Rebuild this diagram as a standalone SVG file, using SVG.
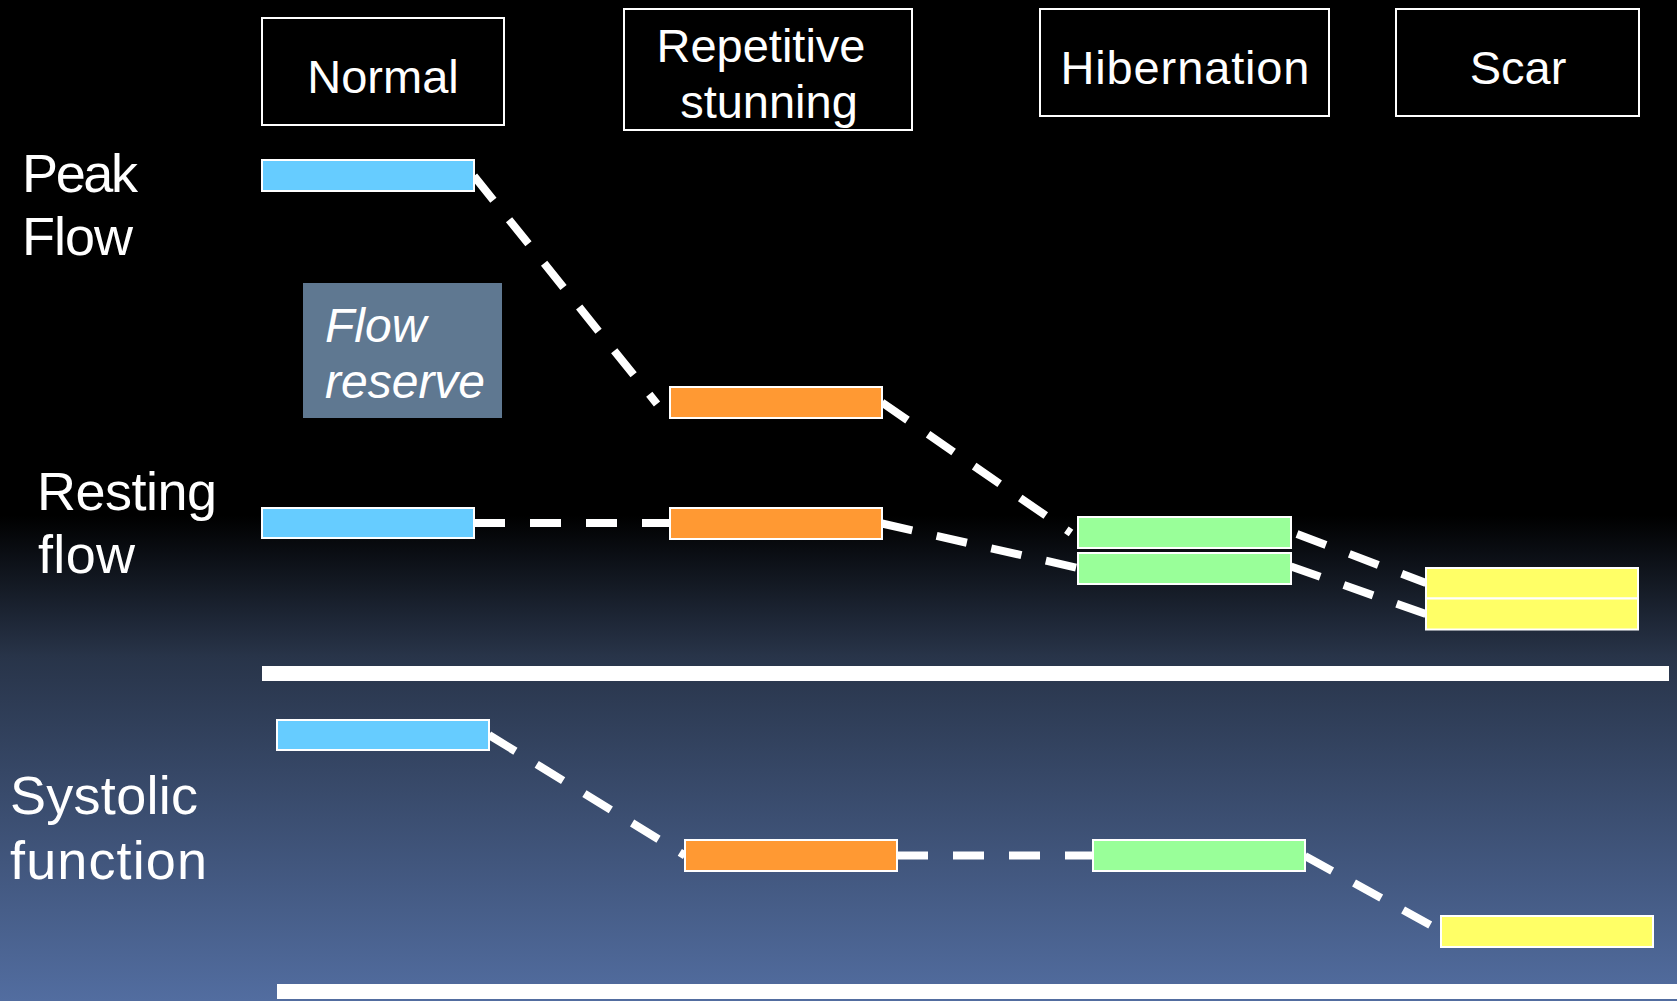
<svg xmlns="http://www.w3.org/2000/svg" width="1677" height="1001" viewBox="0 0 1677 1001">
  <defs>
    <linearGradient id="bg" gradientUnits="userSpaceOnUse" x1="0" y1="0" x2="0" y2="1001">
      <stop offset="0" stop-color="#000000"/>
      <stop offset="0.515" stop-color="#000000"/>
      <stop offset="0.656" stop-color="#283449"/>
      <stop offset="1" stop-color="#526DA0"/>
    </linearGradient>
  </defs>
  <style>
    .hdr { fill: none; stroke: #FFFFFF; stroke-width: 2; }
    .hdrtxt { font-family: "Liberation Sans", Arial, sans-serif; font-size: 47px; fill: #FFFFFF; text-anchor: middle; }
    .side { font-family: "Liberation Sans", Arial, sans-serif; font-size: 54px; fill: #FFFFFF; }
    .bar { stroke: #FFFFFF; stroke-width: 2; }
    .blue { fill: #66CCFF; }
    .orange { fill: #FF9933; }
    .green { fill: #99FF99; }
    .yellow { fill: #FFFF66; }
    .conn { stroke: #FFFFFF; stroke-width: 8; stroke-dasharray: 31 25; fill: none; stroke-linecap: butt; }
    .rule { fill: #FFFFFF; }
    .fr { fill: #5F7891; }
    .frtxt { font-family: "Liberation Sans", Arial, sans-serif; font-size: 48px; font-style: italic; fill: #FFFFFF; }
  </style>

  <rect x="0" y="0" width="1677" height="1001" fill="url(#bg)"/>

  <!-- Column headers -->
  <g id="hdr-normal">
    <rect class="hdr" x="262" y="18" width="242" height="107"/>
    <text class="hdrtxt" x="383" y="93">Normal</text>
  </g>
  <g id="hdr-stunning">
    <rect class="hdr" x="624" y="9" width="288" height="121"/>
    <text class="hdrtxt" x="761" y="62">Repetitive</text>
    <text class="hdrtxt" x="769" y="118">stunning</text>
  </g>
  <g id="hdr-hibernation">
    <rect class="hdr" x="1040" y="9" width="289" height="107"/>
    <text class="hdrtxt" x="1185" y="84" textLength="249" lengthAdjust="spacing">Hibernation</text>
  </g>
  <g id="hdr-scar">
    <rect class="hdr" x="1396" y="9" width="243" height="107"/>
    <text class="hdrtxt" x="1518" y="84">Scar</text>
  </g>

  <!-- Row labels -->
  <g id="label-peak">
    <text class="side" x="22" y="192" textLength="116" lengthAdjust="spacing">Peak</text>
    <text class="side" x="22" y="255" textLength="111" lengthAdjust="spacing">Flow</text>
  </g>
  <g id="label-resting">
    <text class="side" x="37" y="510" textLength="180" lengthAdjust="spacing">Resting</text>
    <text class="side" x="38" y="573" textLength="97" lengthAdjust="spacing">flow</text>
  </g>
  <g id="label-systolic">
    <text class="side" x="10" y="814" textLength="188" lengthAdjust="spacing">Systolic</text>
    <text class="side" x="10" y="879" textLength="197" lengthAdjust="spacing">function</text>
  </g>

  <g id="flow-reserve">
    <rect class="fr" x="303" y="283" width="199" height="135"/>
    <text class="frtxt" x="325" y="342">Flow</text>
    <text class="frtxt" x="325" y="398">reserve</text>
  </g>

  <!-- Separator rules -->
  <rect class="rule" x="262" y="666" width="1407" height="15"/>
  <rect class="rule" x="277" y="984" width="1400" height="15"/>

  <!-- Connectors -->
  <g id="connectors">
    <line class="conn" x1="474" y1="176" x2="657" y2="404"/>
    <line class="conn" x1="882" y1="402.5" x2="1071" y2="533"/>
    <line class="conn" x1="474" y1="523" x2="670" y2="523"/>
    <line class="conn" x1="882" y1="523.5" x2="1078" y2="568"/>
    <line class="conn" x1="1297" y1="534" x2="1426" y2="583"/>
    <line class="conn" x1="1291" y1="566.5" x2="1426" y2="614"/>
    <line class="conn" x1="489" y1="735" x2="685" y2="855.5"/>
    <line class="conn" x1="897" y1="855.5" x2="1093" y2="855.5"/>
    <line class="conn" x1="1305" y1="856" x2="1441" y2="931"/>
  </g>

  <!-- Bars -->
  <g id="peak-normal"><rect class="bar blue" x="262" y="160" width="212" height="31"/></g>
  <g id="peak-stunning"><rect class="bar orange" x="670" y="387" width="212" height="31"/></g>
  <g id="peak-hibernation"><rect class="bar green" x="1078" y="517" width="213" height="31"/></g>
  <g id="peak-scar"><rect class="bar yellow" x="1426" y="568" width="212" height="30.5"/></g>

  <g id="rest-normal"><rect class="bar blue" x="262" y="508" width="212" height="30"/></g>
  <g id="rest-stunning"><rect class="bar orange" x="670" y="508" width="212" height="31"/></g>
  <g id="rest-hibernation"><rect class="bar green" x="1078" y="553" width="213" height="31"/></g>
  <g id="rest-scar"><rect class="bar yellow" x="1426" y="598.5" width="212" height="31"/></g>

  <g id="sys-normal"><rect class="bar blue" x="277" y="720" width="212" height="30"/></g>
  <g id="sys-stunning"><rect class="bar orange" x="685" y="840" width="212" height="31"/></g>
  <g id="sys-hibernation"><rect class="bar green" x="1093" y="840" width="212" height="31"/></g>
  <g id="sys-scar"><rect class="bar yellow" x="1441" y="916" width="212" height="31"/></g>
</svg>
